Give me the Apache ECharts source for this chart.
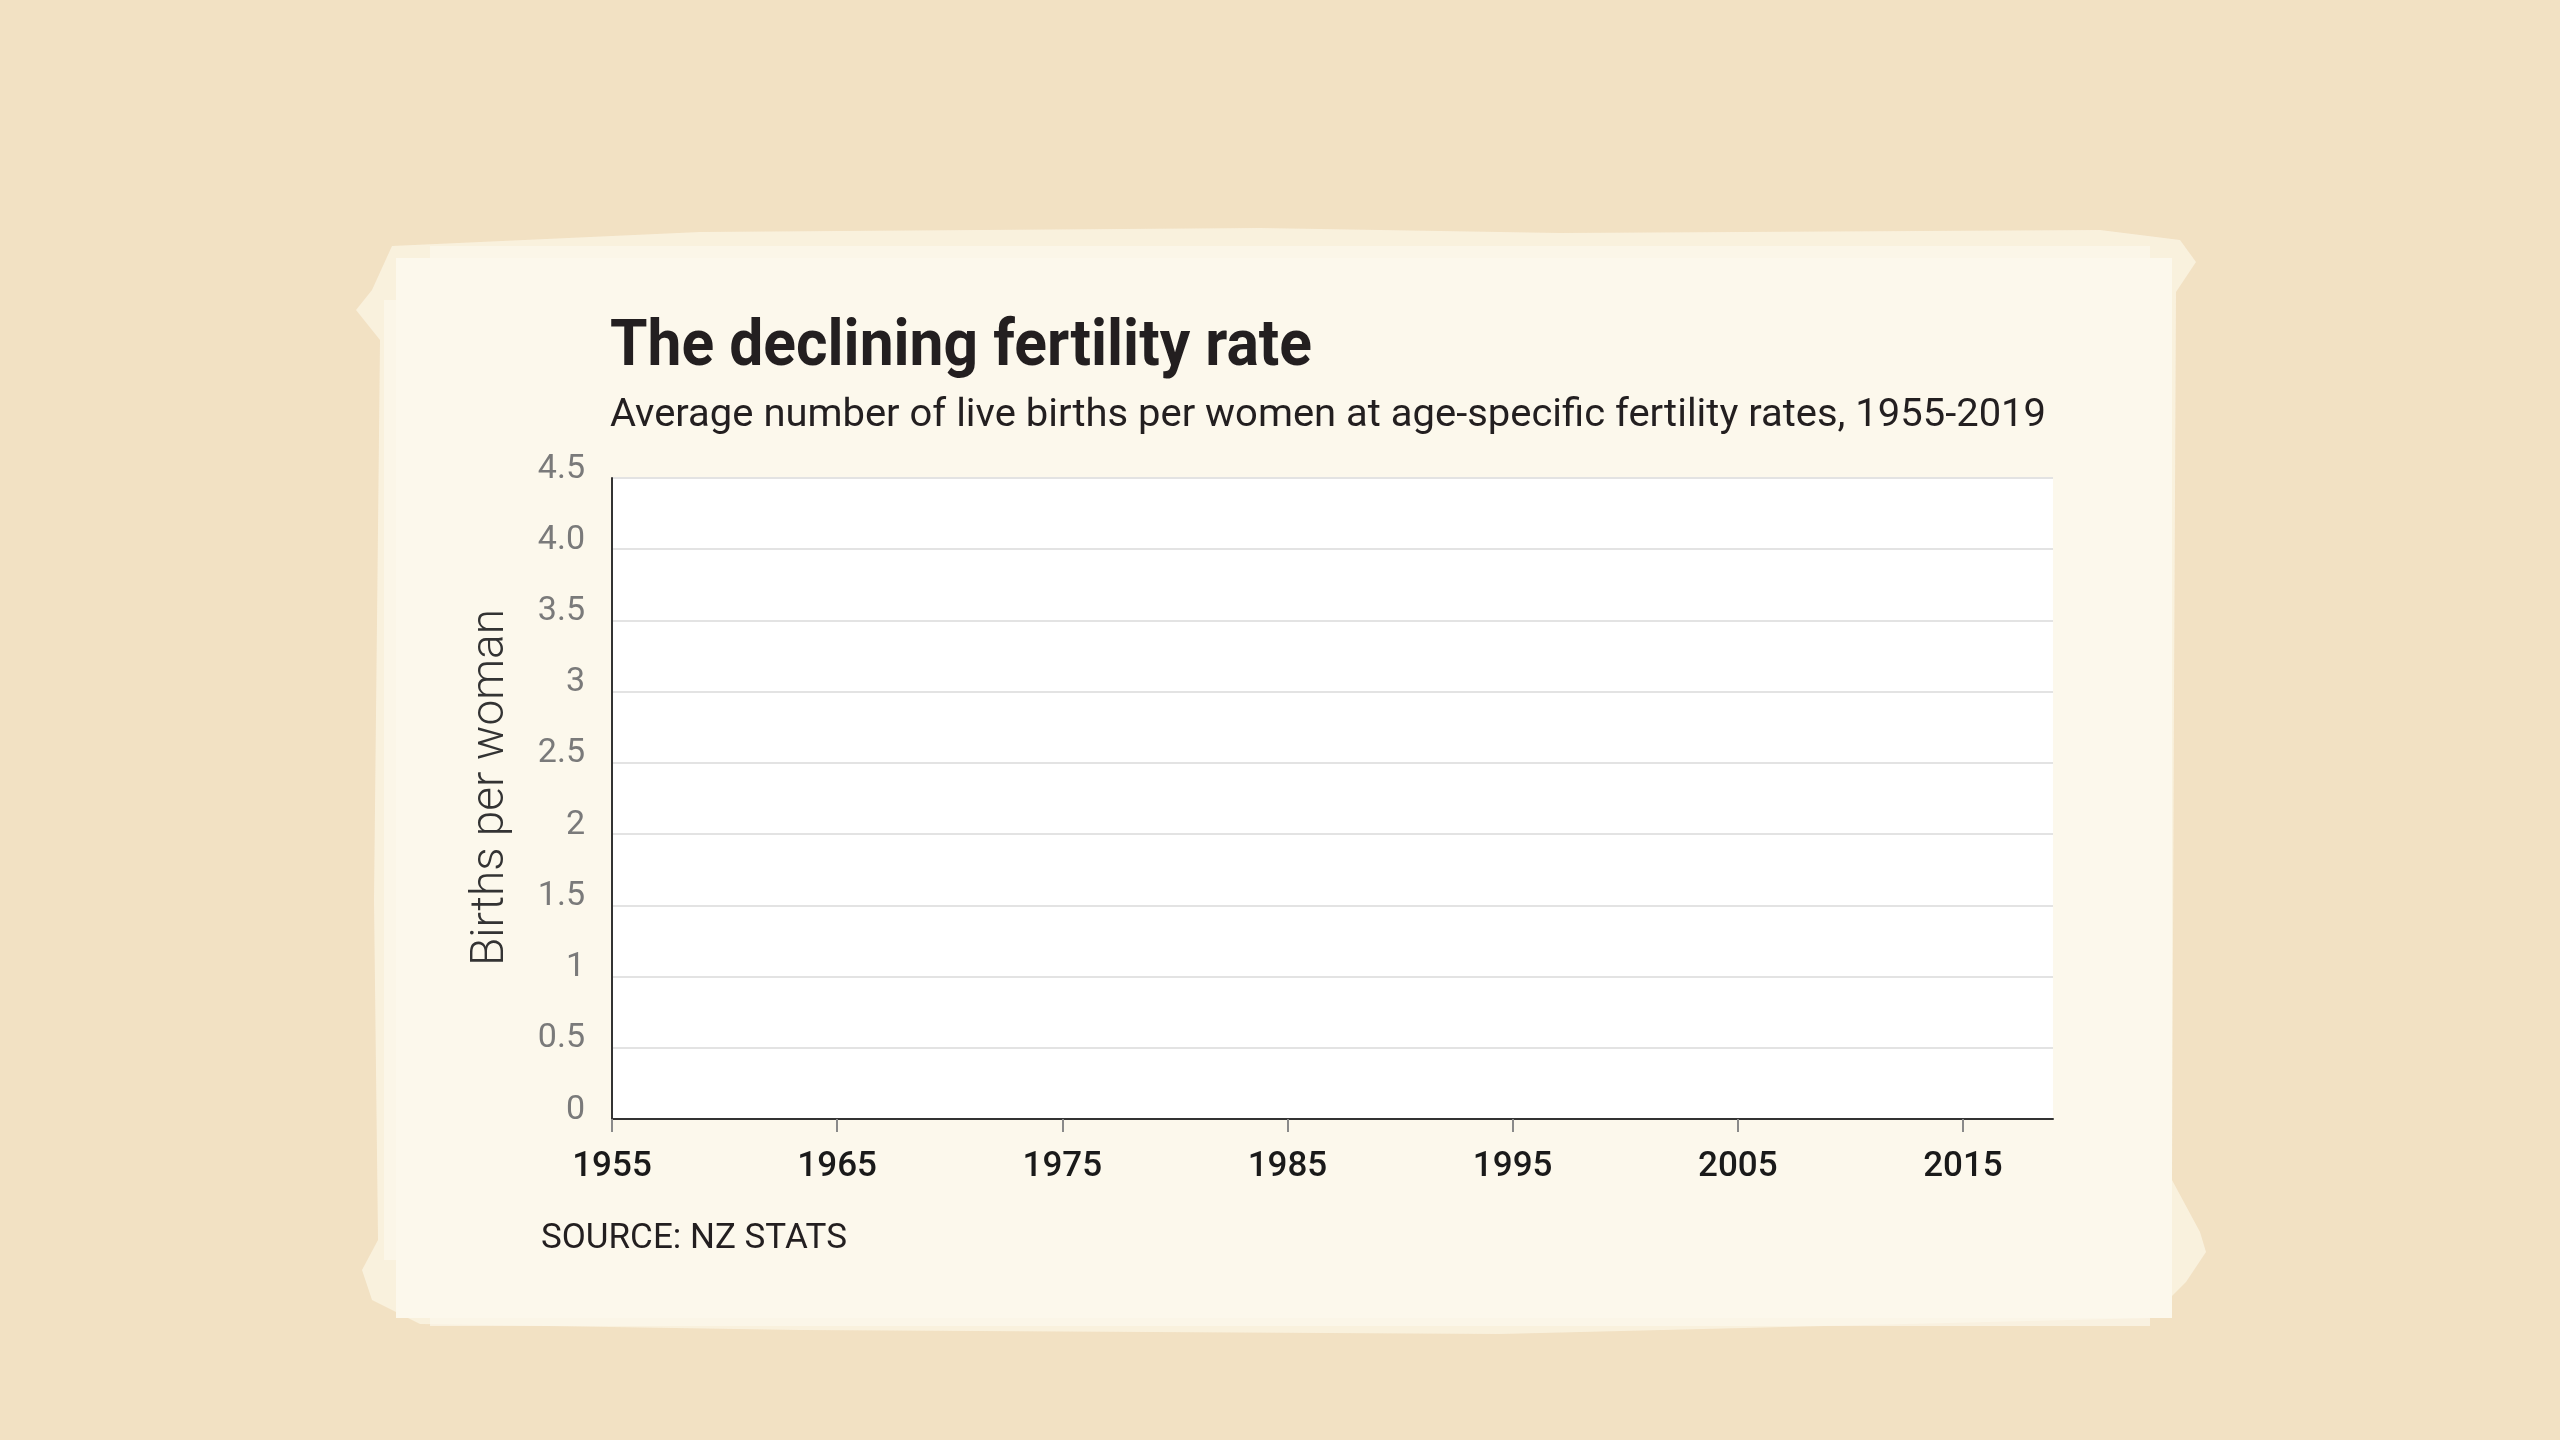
<!DOCTYPE html>
<html>
<head>
<meta charset="utf-8">
<script src="https://cdn.jsdelivr.net/npm/echarts@6/dist/echarts.min.js"></script>
<style>
html,body{margin:0;padding:0;background:#f2e1c3;}
#chart{width:2560px;height:1440px;}
</style>
</head>
<body>
<div id="chart"></div>
<script>
// ---- data ----
const years = [];
for (let y = 1955; y <= 2019; y++) years.push(String(y));
const births = []; // the reference plot shows no plotted values
const yTickLabels = ['0', '0.5', '1', '1.5', '2', '2.5', '3', '3.5', '4.0', '4.5'];
const titleText = 'The declining fertility rate';
const subtitleText = 'Average number of live births per women at age-specific fertility rates, 1955-2019';
const sourceText = 'SOURCE: NZ STATS';
const yAxisName = 'Births per woman';

function fitScale(text, font, target) {
  const c = document.createElement('canvas').getContext('2d');
  c.font = font;
  return target / c.measureText(text).width;
}

const titleFont = 'bold 64px Roboto';
const subFont = '39px Roboto';
const titleScale = fitScale(titleText, titleFont, 702);
const subScale = fitScale(subtitleText, subFont, 1436);

const cream = '#fcf8ec';
const chart = echarts.init(document.getElementById('chart'));
chart.setOption({
  backgroundColor: '#f2e1c3',
  animation: false,
  graphic: [
    // painted card
    { type: 'polygon', z: -10, smooth: 0.2, shape: { points: [[356,310],[372,290],[392,246],[700,232],[1260,228],[1560,233],[2100,230],[2180,240],[2196,262],[2176,292],[2174,700],[2172,1180],[2200,1232],[2206,1252],[2186,1282],[2150,1318],[1500,1334],[800,1330],[420,1324],[372,1300],[362,1270],[378,1240],[374,900],[380,340]] },
      style: { fill: 'rgba(250,243,226,0.85)' } },
    { type: 'rect', z: -9, shape: { x: 396, y: 258, width: 1776, height: 1060 }, style: { fill: cream } },
    { type: 'rect', z: -9, shape: { x: 384, y: 300, width: 16, height: 960 }, style: { fill: 'rgba(252,248,236,0.7)' } },
    { type: 'rect', z: -9, shape: { x: 430, y: 246, width: 1720, height: 14 }, style: { fill: 'rgba(252,248,236,0.7)' } },
    { type: 'rect', z: -9, shape: { x: 430, y: 1314, width: 1720, height: 12 }, style: { fill: 'rgba(252,248,236,0.7)' } },
    // texts
    { type: 'text', x: 610, y: 381, scaleX: titleScale, originX: 0,
      style: { text: titleText, font: titleFont, fill: '#231f20', verticalAlign: 'bottom', align: 'left' } },
    { type: 'text', x: 610, y: 436, scaleX: subScale, originX: 0,
      style: { text: subtitleText, font: subFont, fill: '#231f20', verticalAlign: 'bottom', align: 'left' } },
    { type: 'text', x: 541, y: 1257,
      style: { text: sourceText, font: '35px Roboto', fill: '#231f20', verticalAlign: 'bottom', align: 'left' } }
  ],
  grid: { left: 612, right: 507, top: 478, bottom: 321, show: true, backgroundColor: '#ffffff', borderWidth: 0 },
  xAxis: {
    type: 'category',
    data: years,
    boundaryGap: false,
    axisLine: { show: true, lineStyle: { color: '#333333', width: 2 } },
    axisTick: { show: true, interval: 9, length: 13, lineStyle: { color: '#8a8a8a', width: 2 } },
    axisLabel: { interval: 9, margin: 31, fontFamily: 'Roboto', fontWeight: 500, fontSize: 35, color: '#1a1a1a' },
    splitLine: { show: false }
  },
  yAxis: {
    type: 'value',
    min: 0, max: 4.5, interval: 0.5,
    name: yAxisName,
    nameLocation: 'middle',
    nameGap: 98,
    nameTextStyle: { fontFamily: 'Roboto', fontWeight: 300, fontSize: 46, color: '#333333', padding: [0, 0, 0, 22] },
    axisLine: { show: true, lineStyle: { color: '#333333', width: 2 } },
    axisTick: { show: false },
    axisLabel: {
      margin: 27, fontFamily: 'Roboto', fontSize: 34, color: '#7a7a7a', verticalAlign: 'bottom', lineHeight: 18,
      formatter: (v) => yTickLabels[Math.round(v / 0.5)]
    },
    splitLine: { show: true, lineStyle: { color: '#e3e3e3', width: 2 } }
  },
  series: [{ type: 'line', data: births, showSymbol: false, lineStyle: { color: '#c0392b', width: 4 } }]
});
</script>
</body>
</html>
